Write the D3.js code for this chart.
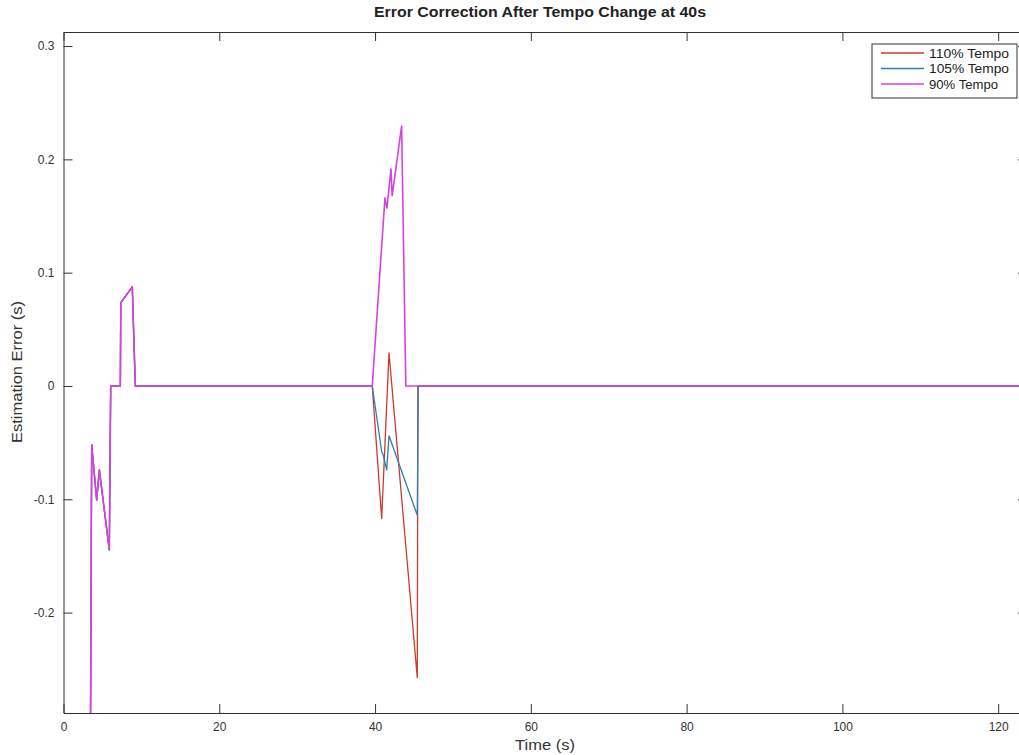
<!DOCTYPE html>
<html>
<head>
<meta charset="utf-8">
<script src="https://cdn.jsdelivr.net/npm/d3@7"></script>
<style>
  html, body { margin: 0; padding: 0; background: #fff; }
  svg { display: block; }
  text { font-family: "Liberation Sans", Arial, Helvetica, sans-serif; }
</style>
</head>
<body>
<svg id="chart" width="1019" height="755"></svg>
<script>
// ---------------- data ----------------
const seriesNames = ["110% Tempo", "105% Tempo", "90% Tempo"];

// 110% tempo
const t110 = [3.40, 3.62, 4.26, 4.60, 5.88, 6.06, 7.30, 7.35, 8.83, 9.22, 39.64, 40.85, 41.79, 45.42, 45.50, 125];
const e110 = [-0.40, -0.052, -0.1006, -0.074, -0.1447, 0, 0, 0.0734, 0.0875, 0, 0, -0.117, 0.0292, -0.2575, 0, 0];

// 105% tempo
const t105 = [3.40, 3.62, 4.26, 4.60, 5.88, 6.06, 7.30, 7.35, 8.83, 9.22, 39.64, 40.85, 41.00, 41.49, 41.79, 45.42, 45.55, 125];
const e105 = [-0.40, -0.052, -0.1006, -0.074, -0.1447, 0, 0, 0.0734, 0.0875, 0, 0, -0.058, -0.060, -0.074, -0.044, -0.114, 0, 0];

// 90% tempo
const t90 = [3.40, 3.62, 4.26, 4.60, 5.88, 6.06, 7.30, 7.35, 8.83, 9.22, 39.64, 41.27, 41.53, 42.04, 42.20, 43.41, 43.95, 125];
const e90 = [-0.40, -0.052, -0.1006, -0.074, -0.1447, 0, 0, 0.0734, 0.0875, 0, 0, 0.166, 0.157, 0.1915, 0.168, 0.2295, 0, 0];

const xTicks = [0, 20, 40, 60, 80, 100, 120];
const yTicks = [-0.2, -0.1, 0, 0.1, 0.2, 0.3];
const colors = ["#cc3a2e", "#2f7db3", "#d244e0"];

// ---------------- layout ----------------
const svg = d3.select("#chart");
const mLeft = 63.5, mRight = 1027, mTop = 32, mBottom = 713;

const x = d3.scaleLinear().domain([0, 123.7]).range([mLeft, mRight]);
const y = d3.scaleLinear().domain([-0.2886, 0.3124]).range([mBottom, mTop]);

svg.append("defs").append("clipPath").attr("id", "plotclip")
  .append("rect").attr("x", mLeft).attr("y", mTop)
  .attr("width", mRight - mLeft).attr("height", mBottom - mTop);

const axisColor = "#333";
const tickLen = 9;

function styleAxis(g) {
  g.selectAll("path.domain").attr("stroke", axisColor).attr("stroke-width", 1);
  g.selectAll(".tick line").attr("stroke", axisColor).attr("stroke-width", 1);
  g.selectAll(".tick text").attr("fill", "#333").style("font-size", "12px")
    .style("font-family", "'Liberation Sans', Arial, sans-serif");
}

const fmt = d => (d === 0 ? "0" : String(d));

svg.append("g").attr("transform", `translate(0,${mBottom})`)
  .call(d3.axisBottom(x).tickValues(xTicks).tickSize(-tickLen).tickSizeOuter(0).tickPadding(9).tickFormat(fmt))
  .call(styleAxis);
svg.append("g").attr("transform", `translate(0,${mTop})`)
  .call(d3.axisTop(x).tickValues(xTicks).tickSize(-tickLen).tickSizeOuter(0).tickFormat(""))
  .call(styleAxis);
svg.append("g").attr("transform", `translate(${mLeft},0)`)
  .call(d3.axisLeft(y).tickValues(yTicks).tickSize(-tickLen).tickSizeOuter(0).tickPadding(9).tickFormat(fmt))
  .call(styleAxis);
svg.append("g").attr("transform", `translate(${mRight},0)`)
  .call(d3.axisRight(y).tickValues(yTicks).tickSize(-tickLen).tickSizeOuter(0).tickFormat(""))
  .call(styleAxis);

// ---------------- lines ----------------
const line = d3.line().x(d => x(d[0])).y(d => y(d[1]));
const series = [
  { t: t110, e: e110, w: 1.3 },
  { t: t105, e: e105, w: 1.3 },
  { t: t90,  e: e90,  w: 1.6 }
];
const plot = svg.append("g").attr("clip-path", "url(#plotclip)");
series.forEach((s, i) => {
  plot.append("path")
    .datum(s.t.map((tv, j) => [tv, s.e[j]]))
    .attr("fill", "none")
    .attr("stroke", colors[i])
    .attr("stroke-width", s.w)
    .attr("stroke-linejoin", "round")
    .attr("d", line);
});

// ---------------- texts ----------------
svg.append("text").attr("x", 540).attr("y", 17).attr("text-anchor", "middle")
  .style("font-size", "14px").style("font-weight", "bold").attr("fill", "#222")
  .attr("textLength", 332).attr("lengthAdjust", "spacingAndGlyphs")
  .text("Error Correction After Tempo Change at 40s");

svg.append("text").attr("x", 545).attr("y", 750).attr("text-anchor", "middle")
  .style("font-size", "14px").attr("fill", "#333")
  .attr("textLength", 60).attr("lengthAdjust", "spacingAndGlyphs")
  .text("Time (s)");

svg.append("text").attr("transform", "translate(22,372) rotate(-90)").attr("text-anchor", "middle")
  .style("font-size", "14px").attr("fill", "#333")
  .attr("textLength", 142).attr("lengthAdjust", "spacingAndGlyphs")
  .text("Estimation Error (s)");

// ---------------- legend ----------------
const legendWidths = [80, 80, 69];
const lg = svg.append("g");
lg.append("rect").attr("x", 872).attr("y", 44).attr("width", 145).attr("height", 54)
  .attr("fill", "#fff").attr("stroke", "#333").attr("stroke-width", 1);
seriesNames.forEach((name, i) => {
  const yy = 53 + i * 15.5;
  lg.append("line").attr("x1", 881).attr("x2", 924).attr("y1", yy).attr("y2", yy)
    .attr("stroke", colors[i]).attr("stroke-width", i === 2 ? 1.6 : 1.3);
  lg.append("text").attr("x", 929).attr("y", yy + 4.5)
    .style("font-size", "12px").attr("fill", "#222")
    .attr("textLength", legendWidths[i]).attr("lengthAdjust", "spacingAndGlyphs")
    .text(name);
});
</script>
</body>
</html>
